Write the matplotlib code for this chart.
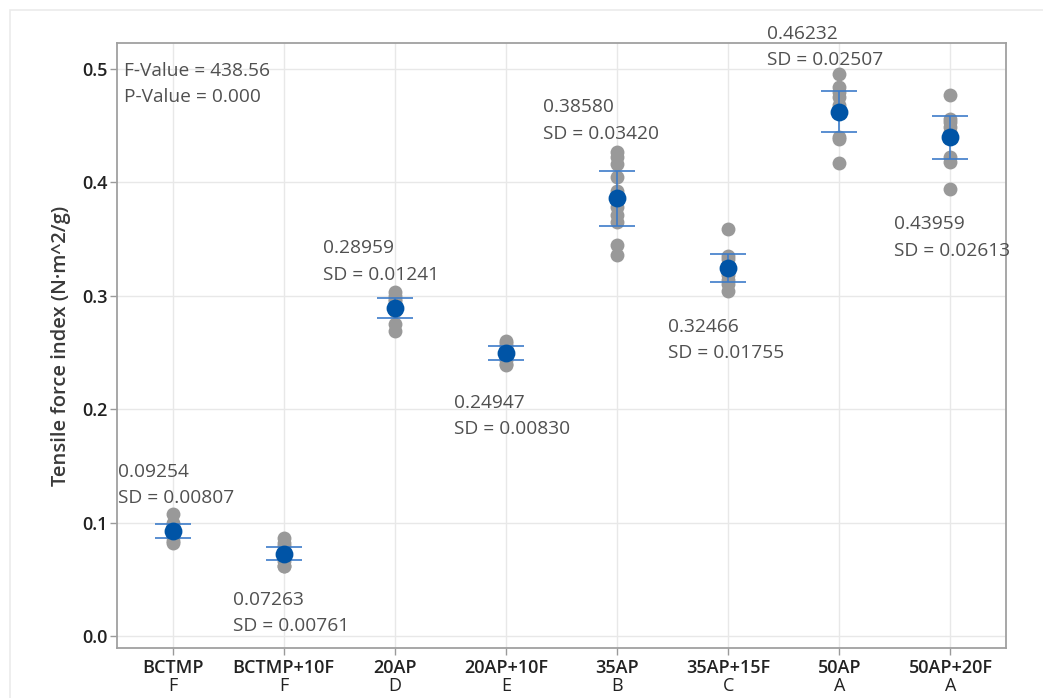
import numpy as np
import matplotlib
matplotlib.use("Agg")
import matplotlib.pyplot as plt
from matplotlib.patches import Rectangle
from matplotlib.transforms import blended_transform_factory

plt.rcParams['font.family'] = ['Open Sans', 'DejaVu Sans']

# Sample groups, Tukey grouping letters, and the tensile index observations (n = 10 each)
groups = ["BCTMP", "BCTMP+10F", "20AP", "20AP+10F", "35AP", "35AP+15F", "50AP", "50AP+20F"]
letters = ["F", "F", "D", "E", "B", "C", "A", "A"]

obs_bctmp = [0.108, 0.100, 0.097, 0.095, 0.093, 0.091, 0.089, 0.087, 0.084, 0.082]
obs_bctmp_10f = [0.086, 0.082, 0.079, 0.076, 0.073, 0.071, 0.069, 0.066, 0.062, 0.062]
obs_20ap = [0.303, 0.300, 0.297, 0.295, 0.292, 0.290, 0.288, 0.287, 0.275, 0.269]
obs_20ap_10f = [0.260, 0.258, 0.256, 0.253, 0.251, 0.249, 0.246, 0.243, 0.240, 0.239]
obs_35ap = [0.427, 0.422, 0.416, 0.405, 0.392, 0.378, 0.371, 0.365, 0.345, 0.336]
obs_35ap_15f = [0.359, 0.335, 0.332, 0.328, 0.325, 0.321, 0.318, 0.314, 0.310, 0.304]
obs_50ap = [0.496, 0.484, 0.480, 0.475, 0.468, 0.463, 0.462, 0.440, 0.438, 0.417]
obs_50ap_20f = [0.477, 0.456, 0.453, 0.449, 0.443, 0.444, 0.440, 0.422, 0.418, 0.394]
observations = [obs_bctmp, obs_bctmp_10f, obs_20ap, obs_20ap_10f,
                obs_35ap, obs_35ap_15f, obs_50ap, obs_50ap_20f]

means = [0.09254, 0.07263, 0.28959, 0.24947, 0.38580, 0.32466, 0.46232, 0.43959]
sds = [0.00807, 0.00761, 0.01241, 0.00830, 0.03420, 0.01755, 0.02507, 0.02613]
n_per_group = 10
t_crit = 2.262  # t(0.975, df = 9)

f_value = "438.56"
p_value = "0.000"

# Where each mean/SD caption sits (left edge x, vertical centre y, in data units)
label_x = [-0.495, 0.54, 1.351, 2.532, 3.333, 4.459, 5.351, 6.495]
label_y = [0.1332, 0.0203, 0.3302, 0.194, 0.4546, 0.261, 0.5194, 0.3514]

W, H, DPI = 1043, 698, 100
fig = plt.figure(figsize=(W / DPI, H / DPI), dpi=DPI)
fig.patch.set_facecolor("white")

# light outer frame of the graph window
fig.add_artist(Rectangle((10 / W, -0.1), 1.2, 1.1 - 10 / H, transform=fig.transFigure,
                         fill=False, edgecolor="#ebebeb", linewidth=1.2))

ax = fig.add_axes([117 / W, 1 - 648 / H, (1006 - 117) / W, (648 - 43) / H])
x = np.arange(len(groups))

# individual observations
for i, obs in enumerate(observations):
    ax.scatter(np.full(len(obs), x[i]), obs, s=100, color="#999999", zorder=3, linewidths=0)

# 95% confidence interval of the mean
half = [t_crit * s / np.sqrt(n_per_group) for s in sds]
ax.errorbar(x, means, yerr=half, fmt="none", ecolor="#3d7cc9", elinewidth=1.2,
            capsize=13, capthick=1.2, zorder=4)
ax.scatter(x, means, s=165, color="#0054a6", zorder=5, linewidths=0)

for i in range(len(groups)):
    ax.text(label_x[i], label_y[i], f"{means[i]:.5f}\nSD = {sds[i]:.5f}",
            ha="left", va="center", fontsize=13.8, color="#505050",
            linespacing=1.62, clip_on=False, zorder=6)

ax.text(0.008, 0.968, f"F-Value = {f_value}\nP-Value = {p_value}", transform=ax.transAxes,
        ha="left", va="top", fontsize=13.8, color="#505050", linespacing=1.55)

ax.set_xlim(-0.5, 7.5)
ax.set_ylim(-0.0106, 0.5229)
ax.set_yticks([0.0, 0.1, 0.2, 0.3, 0.4, 0.5])
ax.set_yticklabels(["0.0", "0.1", "0.2", "0.3", "0.4", "0.5"], fontsize=13,
                   fontweight="semibold", color="#222222")
ax.set_xticks(x)
ax.set_xticklabels(groups, fontsize=13, fontweight="semibold", color="#222222")
ax.tick_params(axis="both", color="#9a9a9a", length=5, width=1)
ax.tick_params(axis="x", pad=3)
ax.tick_params(axis="y", pad=2)

trans = blended_transform_factory(ax.transData, ax.transAxes)
for i, let in enumerate(letters):
    ax.text(x[i], -0.062, let, transform=trans, ha="center", va="center",
            fontsize=13, color="#222222")

ax.grid(True, color="#e8e8e8", linewidth=1)
ax.set_axisbelow(True)
for sp in ax.spines.values():
    sp.set_color("#a0a0a0")
    sp.set_linewidth(1.3)

ax.set_ylabel("Tensile force index (N·m^2/g)", fontsize=14.5, fontweight="semibold",
              color="#3a3a3a", labelpad=8)

fig.savefig("out.png", dpi=DPI)
